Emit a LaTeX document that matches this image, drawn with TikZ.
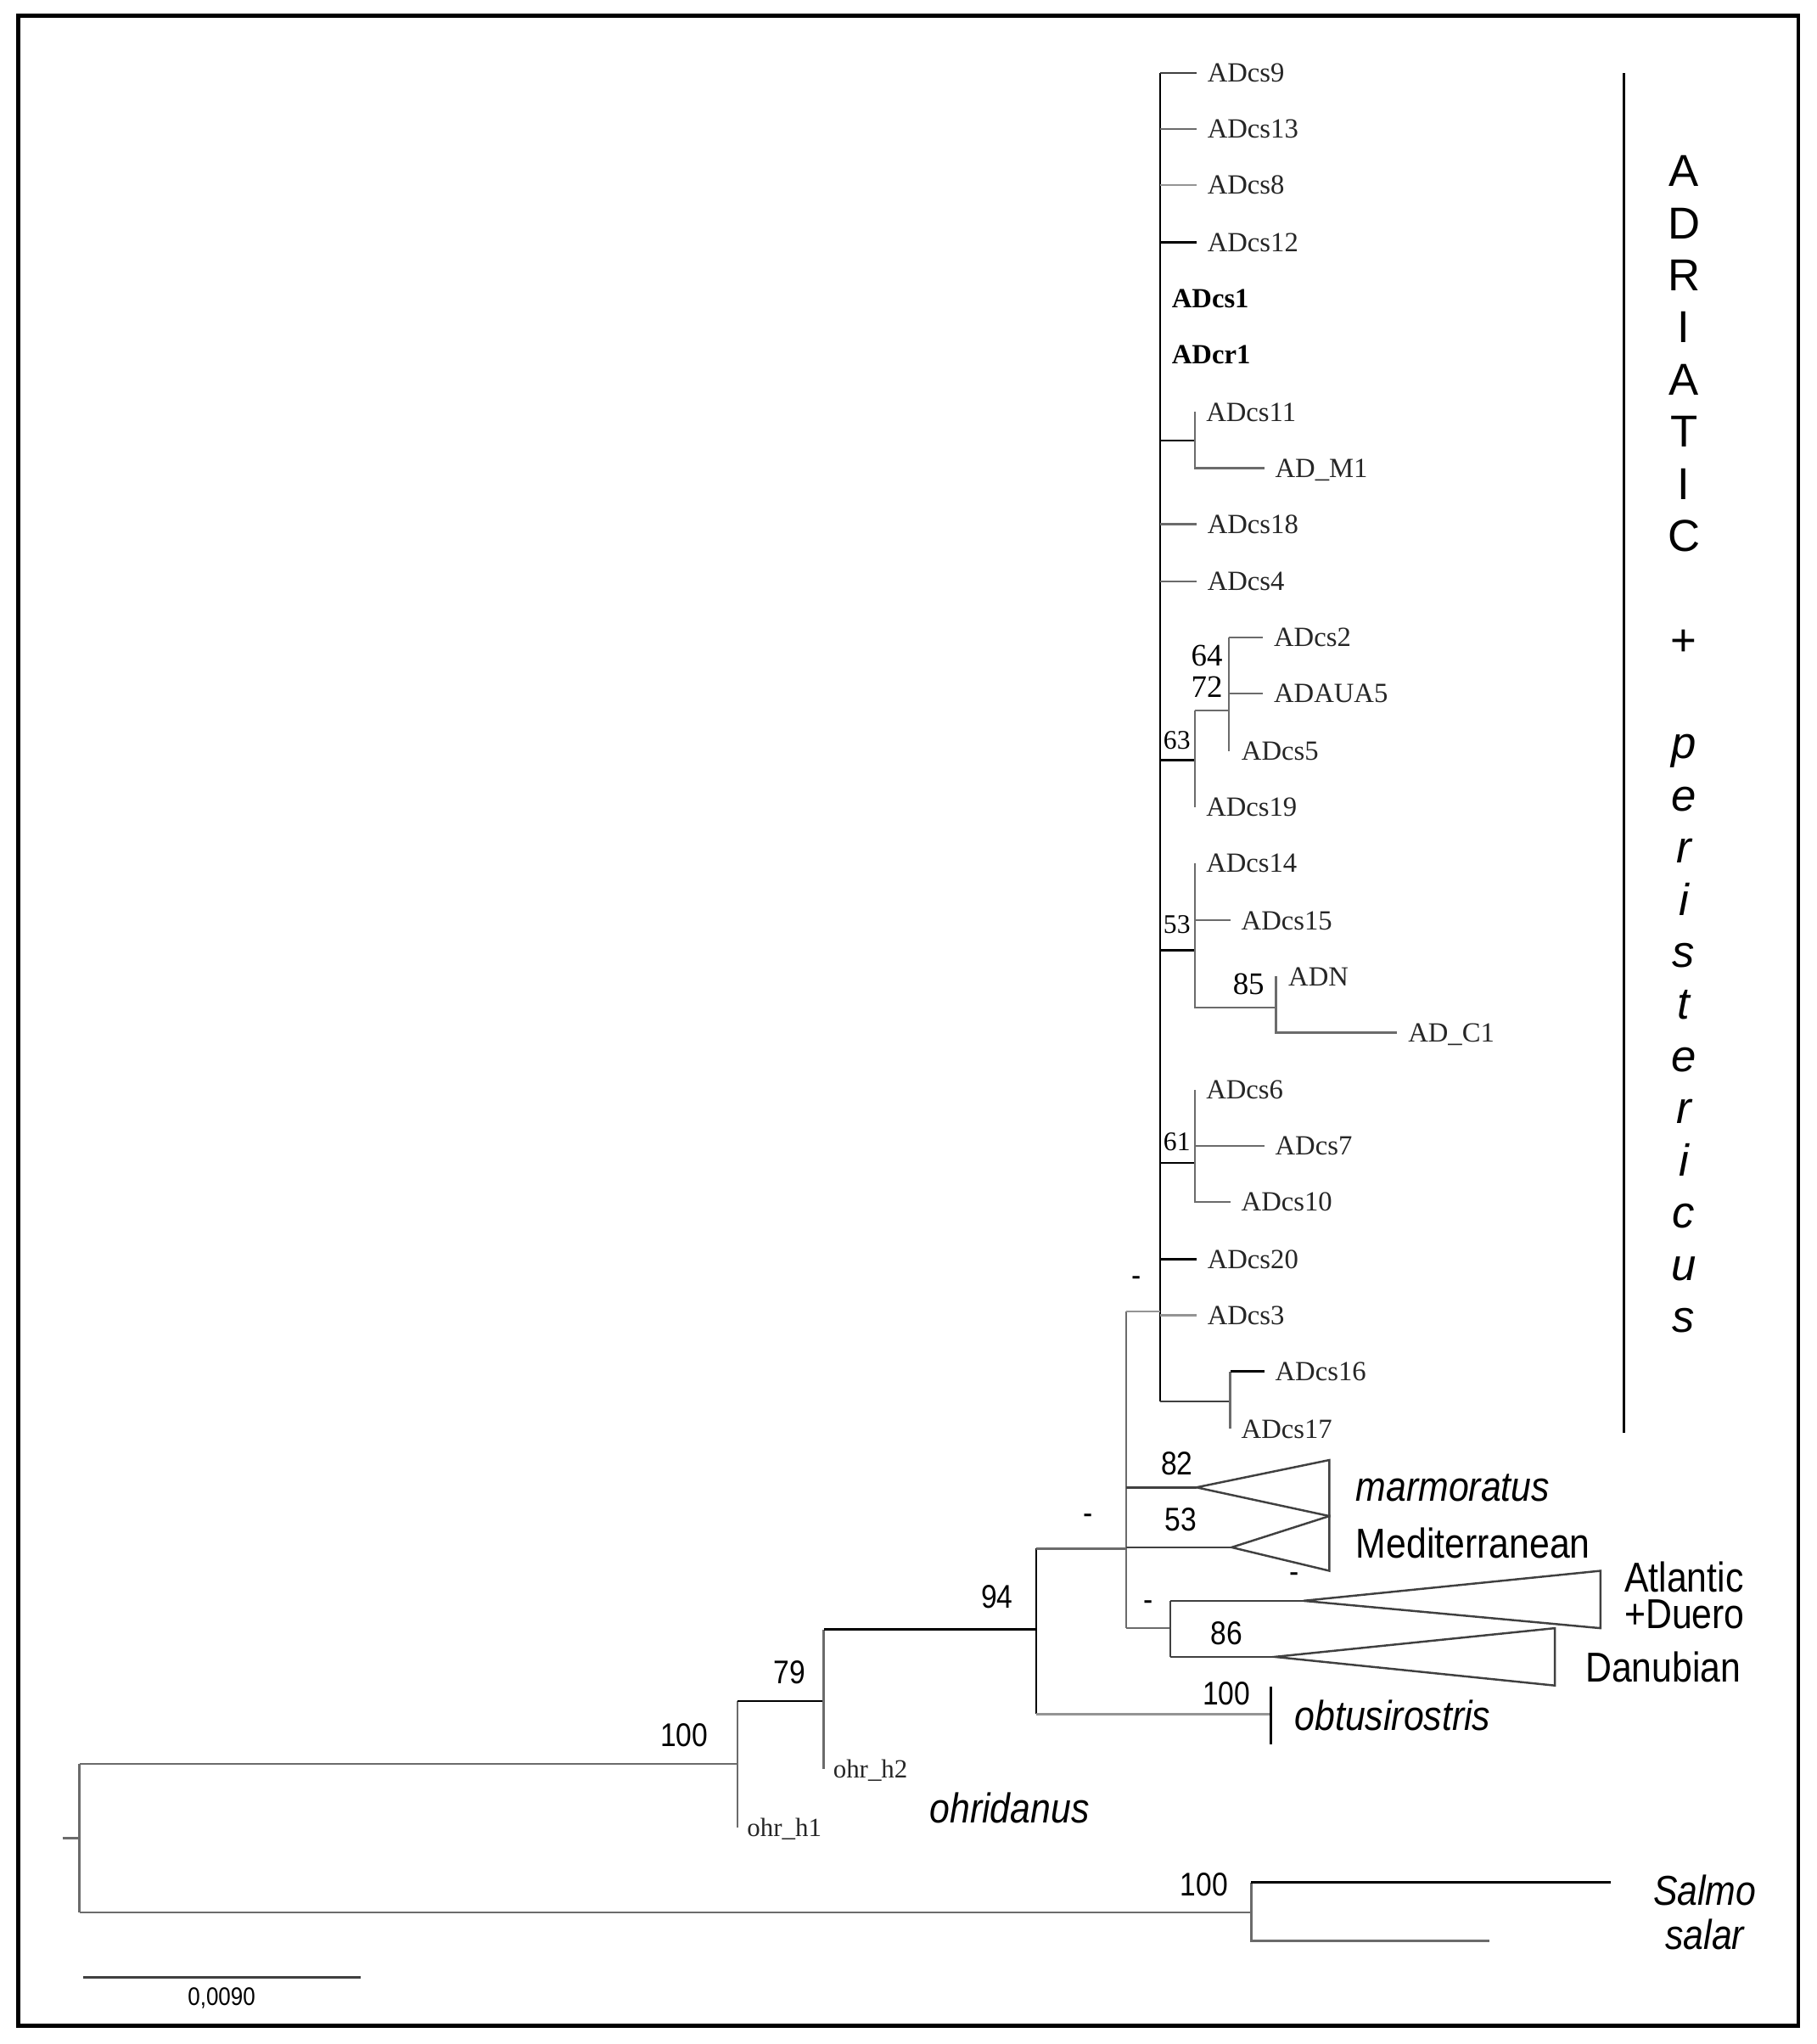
\documentclass[tikz,border=0pt]{standalone}
\usepackage{fontspec}
\setmainfont{Liberation Serif}
\newfontfamily\narrowsf{Liberation Sans}[FakeStretch=0.87]
\newfontfamily\plainsf{Liberation Sans}
\usepackage{tikz}
\usetikzlibrary{positioning,calc}
\tikzset{
	blk/.style={draw=black, line width=0.7pt},
	dgry/.style={draw=black!75, line width=0.7pt},
	gry/.style={draw=black!58, line width=0.7pt},
	lgry/.style={draw=black!42, line width=0.7pt},
	tip/.style={inner sep=0pt, anchor=west, text=black!85, text height=6.2pt, text depth=0pt, font=\fontsize{9.3}{10}\selectfont},
	boldtip/.style={tip, text=black, font=\bfseries\fontsize{9.3}{10}\selectfont},
	boot/.style={inner sep=0pt, font=\narrowsf\fontsize{11}{12}\selectfont},
	sboot/.style={inner sep=0pt, font=\fontsize{9}{10}\selectfont},
	mboot/.style={inner sep=0pt, font=\fontsize{10.5}{11}\selectfont},
	clade/.style={inner sep=0pt, anchor=west, text height=10pt, text depth=0pt, font=\narrowsf\fontsize{14}{15.5}\selectfont},
	vlet/.style={inner sep=0pt, anchor=base, font=\plainsf\fontsize{15}{16}\selectfont},
}

\begin{document}
\begin{tikzpicture}[x=0.015359cm, y=-0.015359cm]
	\useasboundingbox (0,0) rectangle (1394,1568);
	\draw[line width=1.2pt] (14,12) rectangle (1380,1554);
	
	% tips of the Adriatic clade
	\coordinate (t9) at (918,56);
	\coordinate (t13) at (918,99);
	\coordinate (t8) at (918,142);
	\coordinate (t12) at (918,186);
	\coordinate (t1) at (890,229);
	\coordinate (tr1) at (890,272);
	\coordinate (t11) at (917,316);
	\coordinate (tM1) at (970,359);
	\coordinate (t18) at (918,402);
	\coordinate (t4) at (918,446);
	\coordinate (t2) at (969,489);
	\coordinate (tUA5) at (969,532);
	\coordinate (t5) at (943,576);
	\coordinate (t19) at (917,619);
	\coordinate (t14) at (917,662);
	\coordinate (t15) at (944,706);
	\coordinate (tN) at (979,749);
	\coordinate (tC1) at (1072,792);
	\coordinate (t6) at (917,836);
	\coordinate (t7) at (970,879);
	\coordinate (t10) at (944,922);
	\coordinate (t20) at (918,966);
	\coordinate (t3) at (918,1009);
	\coordinate (t16) at (970,1052);
	\coordinate (t17) at (944,1096);
	
	% inner nodes of the Adriatic clade
	\coordinate (nAdr) at (890,1006);
	\coordinate (n11) at (917,338);
	\coordinate (n63) at (917,583);
	\coordinate (n64) at (943,545);
	\coordinate (n53) at (917,729);
	\coordinate (n85) at (979,773);
	\coordinate (n61) at (917,892);
	\coordinate (n16) at (944,1075);
	
	% deeper nodes
	\coordinate (rootstub) at (48,1410);
	\coordinate (root) at (61,1410);
	\coordinate (nIng) at (566,1353);
	\coordinate (nSal) at (960,1467);
	\coordinate (n79) at (632,1305);
	\coordinate (n94) at (795,1250);
	\coordinate (nMid) at (864,1188);
	\coordinate (nObt) at (975,1315);
	\coordinate (obtTop) at (975,1294);
	\coordinate (obtBot) at (975,1338);
	\coordinate (nMar) at (918,1141);
	\coordinate (nMed) at (945,1187);
	\coordinate (nAtDa) at (898,1249);
	\coordinate (nAtl) at (1000,1228);
	\coordinate (nDan) at (978,1271);
	\coordinate (th1) at (566,1402);
	\coordinate (th2) at (632,1357);
	\coordinate (tSal1) at (1236,1444);
	\coordinate (tSal2) at (1143,1489);
	
	% Adriatic backbone
	\draw[blk] (nAdr |- t9) -- (nAdr |- n16);
	\draw[dgry] (nAdr |- t9) -- (t9);
	\draw[gry] (nAdr |- t13) -- (t13);
	\draw[lgry] (nAdr |- t8) -- (t8);
	\draw[blk] (nAdr |- t12) -- (t12);
	\draw[blk] (nAdr |- n11) -- (n11);
	\draw[gry] (n11 |- t11) -- (n11 |- tM1) -- (tM1);
	\draw[gry] (nAdr |- t18) -- (t18);
	\draw[gry] (nAdr |- t4) -- (t4);
	\draw[blk] (nAdr |- n63) -- (n63);
	\draw[gry] (n63 |- n64) -- (n63 |- t19);
	\draw[gry] (n63 |- n64) -- (n64);
	\draw[gry] (n64 |- t2) -- (n64 |- t5);
	\draw[gry] (n64 |- t2) -- (t2);
	\draw[gry] (n64 |- tUA5) -- (tUA5);
	\draw[blk] (nAdr |- n53) -- (n53);
	\draw[gry] (n53 |- t14) -- (n53 |- n85) -- (n85);
	\draw[gry] (n53 |- t15) -- (t15);
	\draw[gry] (n85 |- tN) -- (n85 |- tC1) -- (tC1);
	\draw[blk] (nAdr |- n61) -- (n61);
	\draw[gry] (n61 |- t6) -- (n61 |- t10) -- (t10);
	\draw[gry] (n61 |- t7) -- (t7);
	\draw[blk] (nAdr |- t20) -- (t20);
	\draw[lgry] (nAdr |- t3) -- (t3);
	\draw[dgry] (nAdr |- n16) -- (n16);
	\draw[gry] (n16 |- t16) -- (n16 |- t17);
	\draw[blk] (n16 |- t16) -- (t16);
	
	% tip labels
	\node[tip, right=3.5pt of t9] (l9) {ADcs9};
	\node[tip, right=3.5pt of t13] (l13) {ADcs13};
	\node[tip, right=3.5pt of t8] (l8) {ADcs8};
	\node[tip, right=3.5pt of t12] (l12) {ADcs12};
	\node[boldtip, right=3.8pt of t1] (l1) {ADcs1};
	\node[boldtip, right=3.8pt of tr1] (lr1) {ADcr1};
	\node[tip, right=3.5pt of t11] (l11) {ADcs11};
	\node[tip, right=3.5pt of tM1] (lM1) {AD\_M1};
	\node[tip, right=3.5pt of t18] (l18) {ADcs18};
	\node[tip, right=3.5pt of t4] (l4) {ADcs4};
	\node[tip, right=3.5pt of t2] (l2) {ADcs2};
	\node[tip, right=3.5pt of tUA5] (lUA5) {ADAUA5};
	\node[tip, right=4pt of t5] (l5) {ADcs5};
	\node[tip, right=3.5pt of t19] (l19) {ADcs19};
	\node[tip, right=3.5pt of t14] (l14) {ADcs14};
	\node[tip, right=3.5pt of t15] (l15) {ADcs15};
	\node[tip, right=4pt of tN] (lN) {ADN};
	\node[tip, right=3.5pt of tC1] (lC1) {AD\_C1};
	\node[tip, right=3.5pt of t6] (l6) {ADcs6};
	\node[tip, right=3.5pt of t7] (l7) {ADcs7};
	\node[tip, right=3.5pt of t10] (l10) {ADcs10};
	\node[tip, right=3.5pt of t20] (l20) {ADcs20};
	\node[tip, right=3.5pt of t3] (l3) {ADcs3};
	\node[tip, right=3.5pt of t16] (l16) {ADcs16};
	\node[tip, right=3.5pt of t17] (l17) {ADcs17};
	
	% support values inside the Adriatic clade
	\node[mboot] (b64) at (926,503) {64};
	\node[mboot] (b72) at (926,527) {72};
	\node[sboot] (b63) at (903,568) {63};
	\node[sboot] (b53a) at (903,709) {53};
	\node[mboot] (b85) at (958,755) {85};
	\node[sboot] (b61) at (903,876) {61};
	
	% deeper branches
	\draw[gry] (rootstub) -- (root);
	\draw[gry] (root |- nIng) -- (root |- nSal);
	\draw[gry] (root |- nIng) -- (nIng);
	\draw[gry] (root |- nSal) -- (nSal);
	\draw[gry] (nSal |- tSal1) -- (nSal |- tSal2) -- (tSal2);
	\draw[blk] (nSal |- tSal1) -- (tSal1);
	\draw[gry] (nIng |- n79) -- (th1);
	\draw[blk] (nIng |- n79) -- (n79);
	\draw[gry] (n79 |- n94) -- (th2);
	\draw[blk] (n79 |- n94) -- (n94);
	\draw[blk] (n94 |- nMid) -- (n94 |- nObt);
	\draw[gry] (n94 |- nMid) -- (nMid);
	\draw[lgry] (n94 |- nObt) -- (nObt);
	\draw[blk] (obtTop) -- (obtBot);
	\draw[gry] (nMid |- nAdr) -- (nMid |- nAtDa);
	\draw[lgry] (nMid |- nAdr) -- (nAdr);
	\draw[dgry] (nMid |- nMar) -- (nMar);
	\draw[dgry] (nMid |- nMed) -- (nMed);
	\draw[gry] (nMid |- nAtDa) -- (nAtDa);
	\draw[dgry] (nAtDa |- nAtl) -- (nAtDa |- nDan);
	\draw[dgry] (nAtDa |- nAtl) -- (nAtl);
	\draw[dgry] (nAtDa |- nDan) -- (nDan);
	
	% collapsed clades
	\draw[dgry] (nMar) -- (1020,1120) -- (1020,1163) -- cycle;
	\draw[dgry] (nMed) -- (1020,1163) -- (1020,1205) -- cycle;
	\draw[dgry] (nAtl) -- (1228,1205) -- (1228,1249) -- cycle;
	\draw[dgry] (nDan) -- (1193,1249) -- (1193,1293) -- cycle;
	
	% support values
	\node[boot] (dAdr) at (872,983) {-};
	\node[boot] (b82) at (903,1123) {82};
	\node[boot] (b53) at (906,1166) {53};
	\node[boot] (dAtl) at (993,1210) {-};
	\node[boot] (dAtDa) at (881,1232) {-};
	\node[boot] (b86) at (941,1253) {86};
	\node[boot] (b100o) at (941,1299) {100};
	\node[boot] (dMid) at (835,1165) {-};
	\node[boot] (b94) at (765,1225) {94};
	\node[boot] (b79) at (606,1283) {79};
	\node[boot] (b100i) at (525,1331) {100};
	\node[boot] (b100s) at (924,1446) {100};
	
	% taxon labels
	\node[clade, font=\narrowsf\itshape\fontsize{14}{15.5}\selectfont] (marm) at (1040,1140) {marmoratus};
	\node[clade] (medi) at (1040,1184) {Mediterranean};
	\node[clade] (atl) at (1246,1210) {Atlantic};
	\node[clade] (duer) at (1246,1238) {+Duero};
	\node[clade] (danu) at (1216,1279) {Danubian};
	\node[clade, font=\narrowsf\itshape\fontsize{14}{15.5}\selectfont] (obtu) at (993,1316) {obtusirostris};
	\node[tip, font=\fontsize{8.8}{10}\selectfont, right=3pt of th1] (lh1) {ohr\_h1};
	\node[tip, font=\fontsize{8.8}{10}\selectfont, right=3pt of th2] (lh2) {ohr\_h2};
	\node[clade, font=\narrowsf\itshape\fontsize{14}{15.5}\selectfont] (ohri) at (713,1387) {ohridanus};
	\node[inner sep=0pt, text height=10pt, text depth=0pt, font=\narrowsf\itshape\fontsize{14}{15.5}\selectfont] (salmo) at (1308,1450) {Salmo};
	\node[inner sep=0pt, text height=10pt, text depth=0pt, font=\narrowsf\itshape\fontsize{14}{15.5}\selectfont] (salar) at (1308,1484) {salar};
	
	% clade bar
	\coordinate (barTop) at (1246,56);
	\coordinate (barBot) at (1246,1099);
	\draw[black, line width=0.8pt] (barTop) -- (barBot);
	\foreach \ch [count=\i] in {A,D,R,I,A,T,I,C}
		\node[vlet] (va\i) at (1292,103+40*\i) {\ch};
	\node[vlet] (vplus) at (1292,503) {+};
	\foreach \ch [count=\i] in {p,e,r,i,s,t,e,r,i,c,u,s}
		\node[vlet, font=\plainsf\itshape\fontsize{15}{16}\selectfont] (vb\i) at (1292,542+40*\i) {\ch};
	
	% scale bar
	\coordinate (sclA) at (64,1517);
	\coordinate (sclB) at (277,1517);
	\draw[dgry] (sclA) -- (sclB);
	\node[inner sep=0pt, font=\narrowsf\fontsize{8.5}{9}\selectfont] (scl) at (170,1533) {0,0090};
\end{tikzpicture}
\end{document}
